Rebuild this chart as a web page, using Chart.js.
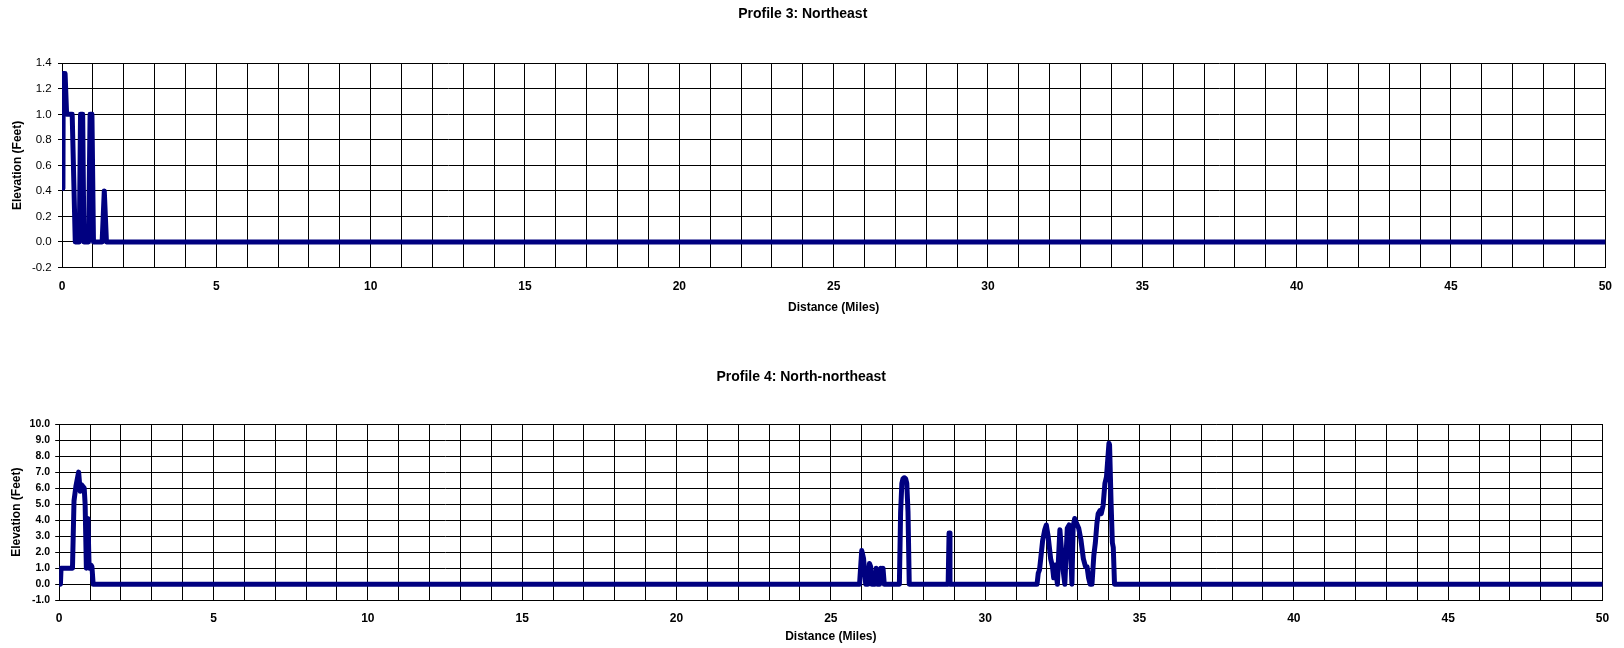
<!DOCTYPE html>
<html><head><meta charset="utf-8">
<script src="https://cdn.jsdelivr.net/npm/chart.js@4"></script>
<style>
html,body{margin:0;padding:0;background:#fff;width:1624px;height:648px;overflow:hidden}
canvas{position:absolute;left:0}
</style></head>
<body>
<canvas id="c3" width="1624" height="340" style="top:0px"></canvas>
<canvas id="c4" width="1624" height="308" style="top:340px"></canvas>
<script>
// ---- data ----
const xTitle = 'Distance (Miles)';
const yTitle = 'Elevation (Feet)';
const xTickLabels = [0, 5, 10, 15, 20, 25, 30, 35, 40, 45, 50];

const p3Title = 'Profile 3: Northeast';
const p3Miles = [0.03, 0.04, 0.10, 0.15, 0.33, 0.43, 0.56, 0.60, 0.67, 0.71, 0.86, 0.91, 0.97, 1.02, 1.30, 1.37, 1.44, 50];
const p3Elev  = [0.42, 1.32, 1.32, 1.00, 1.00, 0.00, 0.00, 1.00, 1.00, 0.00, 0.00, 1.00, 1.00, 0.00, 0.00, 0.40, 0.00, 0.00];
const p3YTicks = [-0.2, 0.0, 0.2, 0.4, 0.6, 0.8, 1.0, 1.2, 1.4];

const p4Title = 'Profile 4: North-northeast';
const p4Miles = [
  0.04, 0.06, 0.43, 0.48, 0.54, 0.63, 0.68, 0.73, 0.81, 0.84, 0.88, 0.93, 0.97, 1.03, 1.06, 1.10,
  25.93, 26.00, 26.06, 26.13, 26.20, 26.25, 26.29, 26.33, 26.43, 26.47, 26.51, 26.58, 26.62, 26.65, 26.69, 26.73,
  27.22, 27.26, 27.30, 27.34, 27.38, 27.42, 27.46, 27.50, 27.54,
  28.80, 28.83, 28.86,
  31.68, 31.72, 31.76, 31.80, 31.86, 31.93, 31.98, 32.04, 32.12, 32.18, 32.22, 32.27, 32.34, 32.38, 32.42, 32.47, 32.53, 32.58,
  32.66, 32.72, 32.77, 32.81, 32.85, 32.90, 32.96, 33.03, 33.10, 33.18, 33.25, 33.30, 33.35, 33.40, 33.46,
  33.52, 33.57, 33.62, 33.66, 33.72, 33.76, 33.82, 33.88, 33.93, 34.01, 34.03, 34.08, 34.12, 34.15, 34.19, 50
];
const p4Elev = [
  0.0, 1.0, 1.0, 5.2, 6.1, 7.0, 5.8, 6.2, 6.0, 5.0, 1.0, 4.1, 1.0, 1.2, 1.1, 0.0,
  0.0, 2.1, 1.6, 0.0, 0.0, 1.3, 1.1, 0.0, 0.0, 1.0, 0.0, 0.0, 1.0, 0.8, 1.0, 0.0,
  0.0, 4.5, 6.3, 6.6, 6.65, 6.6, 6.3, 4.5, 0.0,
  0.0, 3.2, 0.0,
  0.0, 0.7, 0.9, 1.6, 2.7, 3.4, 3.7, 3.0, 1.6, 1.1, 0.4, 1.2, 0.0, 1.8, 3.4, 2.2, 0.8, 0.0,
  3.5, 3.7, 2.0, 0.0, 3.6, 4.1, 3.8, 3.5, 2.8, 1.6, 1.1, 1.1, 0.4, 0.0, 0.0,
  1.8, 2.6, 3.8, 4.4, 4.6, 4.4, 4.9, 6.3, 6.7, 8.8, 8.7, 5.0, 2.6, 2.3, 0.0, 0.0
];
const p4YTicks = [-1, 0, 1, 2, 3, 4, 5, 6, 7, 8, 9, 10];

// ---- drawing ----
const FONT = "Arial, 'Liberation Sans', Helvetica, sans-serif";

function makeChart(id, title, miles, elev, yTicks, L) {
  const pts = miles.map((m, i) => ({x: m, y: elev[i]}));
  const yMin = yTicks[0], yMax = yTicks[yTicks.length - 1];
  const yStep = yTicks[1] - yTicks[0];
  new Chart(document.getElementById(id), {
    type: 'line',
    data: {datasets: [{
      data: pts, borderColor: '#000080', borderWidth: 5, pointRadius: 0,
      tension: 0, borderJoinStyle: 'round', borderCapStyle: 'round', fill: false
    }]},
    options: {
      responsive: false, animation: false, devicePixelRatio: 1,
      layout: {padding: {left: 0, right: L.right, top: 0, bottom: L.padBottom}},
      plugins: {
        legend: {display: false}, tooltip: {enabled: false},
        title: {display: true, text: title, color: '#000',
          font: {family: FONT, size: 14, weight: 'bold', lineHeight: 1.2},
          padding: {top: L.titleTop, bottom: L.titleBottom}}
      },
      scales: {
        x: {
          type: 'linear', min: 0, max: 50,
          ticks: {stepSize: 1, autoSkip: false, maxRotation: 0, minRotation: 0,
            padding: L.xTickPad, color: '#000',
            font: {family: FONT, size: 12, weight: 'bold', lineHeight: 1.2},
            callback: v => xTickLabels.includes(v) ? String(v) : ''},
          grid: {color: '#000', lineWidth: 1, drawTicks: false},
          border: {color: '#000', width: 1},
          title: {display: true, text: xTitle, color: '#000',
            font: {family: FONT, size: 12, weight: 'bold', lineHeight: 1.2},
            padding: {top: 0, bottom: 0}},
          afterFit: s => { s.height = L.xH; }
        },
        y: {
          type: 'linear', min: yMin, max: yMax,
          ticks: {stepSize: yStep, padding: L.yTickPad, color: '#000',
            font: {family: FONT, size: L.yFontSize, weight: L.yFontWeight, lineHeight: 1.2},
            callback: v => (Math.round(v * 10) / 10 + 0).toFixed(1)},
          grid: {color: '#000', lineWidth: 1, tickLength: 4},
          border: {color: '#000', width: 1},
          title: {display: true, text: yTitle, color: '#000',
            font: {family: FONT, size: 12, weight: 'bold', lineHeight: 1.2},
            padding: {top: L.yTitlePad, bottom: 0}},
          afterFit: s => { s.width = L.left; }
        }
      }
    }
  });
}

makeChart('c3', p3Title, p3Miles, p3Elev, p3YTicks, {
  left: 62, right: 18.5, titleTop: 5.6, titleBottom: 40.9,
  xH: 47.3, padBottom: 25.2, xTickPad: 12.0, yTickPad: 6.3, yTitlePad: 10.8,
  yFontSize: 11.5, yFontWeight: 'normal'
});
makeChart('c4', p4Title, p4Miles, p4Elev, p4YTicks, {
  left: 59.2, right: 21.5, titleTop: 29.1, titleBottom: 38.1,
  xH: 43.4, padBottom: 4.3, xTickPad: 10.8, yTickPad: 5.2, yTitlePad: 9.5,
  yFontSize: 10.5, yFontWeight: 'bold'
});
</script>
</body></html>
